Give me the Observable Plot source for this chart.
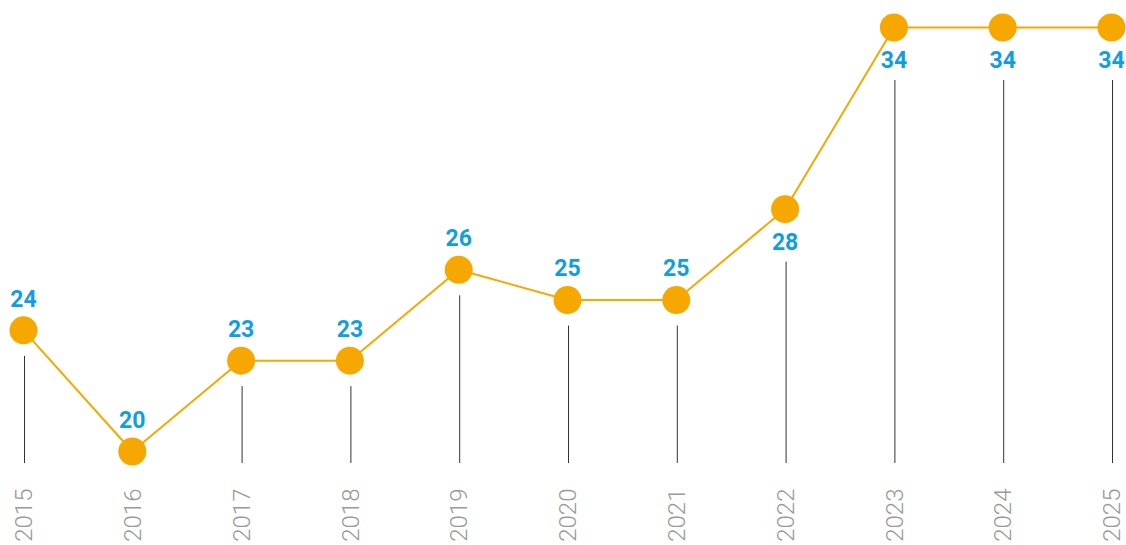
<!DOCTYPE html>
<html>
<head>
<meta charset="utf-8">
<script src="https://cdn.jsdelivr.net/npm/d3@7"></script>
<script src="https://cdn.jsdelivr.net/npm/@observablehq/plot@0.6"></script>
<style>
  html, body { margin: 0; padding: 0; background: #fff; }
  #chart svg { display: block; }
</style>
</head>
<body>
<div id="chart"></div>
<script>
const years = [2015, 2016, 2017, 2018, 2019, 2020, 2021, 2022, 2023, 2024, 2025];
const values = [24, 20, 23, 23, 26, 25, 25, 28, 34, 34, 34];
const labelPos = ["above", "above", "above", "above", "above", "above", "above", "below", "below", "below", "below"];
const base = 20;

const data = years.map((y, i) => ({year: y, value: values[i], pos: labelPos[i]}));
const above = data.filter(d => d.pos === "above" && d.value > base);
const below = data.filter(d => d.pos === "below");

const orange = "#f7a800";
const blue = "#119ee0";

const chart = Plot.plot({
  width: 1126,
  height: 545,
  marginLeft: 23,
  marginRight: 15,
  marginTop: 27,
  marginBottom: 94,
  x: {domain: [2015, 2025], axis: null},
  y: {domain: [20, 34], axis: null},
  style: {fontFamily: "Roboto, 'Liberation Sans', sans-serif", background: "#fff"},
  marks: [
    Plot.ruleX(above, {x: "year", y1: "value", y2: () => base, dx: 1, stroke: "#333", strokeWidth: 1, insetTop: 26, insetBottom: -12}),
    Plot.ruleX(below, {x: "year", y1: "value", y2: () => base, dx: 1, stroke: "#333", strokeWidth: 1, insetTop: 53, insetBottom: -12}),
    Plot.line(data, {x: "year", y: "value", stroke: orange, strokeWidth: 2}),
    Plot.dot(data, {x: "year", y: "value", r: 14, fill: orange, stroke: null}),
    Plot.text(data.filter(d => d.pos === "above"), {x: "year", y: "value", text: d => String(d.value), dy: -31, fill: blue, fontSize: 23, fontWeight: "bold"}),
    Plot.text(below, {x: "year", y: "value", text: d => String(d.value), dy: 33, fill: blue, fontSize: 23, fontWeight: "bold"}),
    Plot.text(data, {x: "year", y: () => base, text: d => String(d.year), rotate: -90, textAnchor: "end", dy: 37, dx: 1, fill: "#999", fontSize: 24, fontWeight: 300})
  ]
});
document.getElementById("chart").appendChild(chart);
</script>
</body>
</html>
